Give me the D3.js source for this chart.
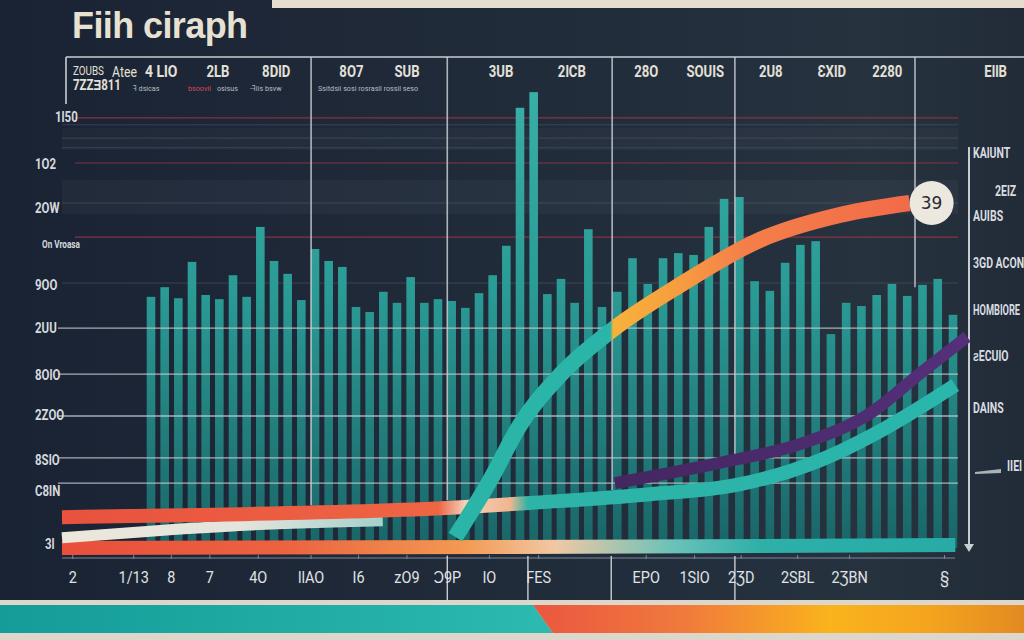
<!DOCTYPE html>
<html><head><meta charset="utf-8">
<script src="https://cdn.jsdelivr.net/npm/d3@7"></script>
<style>html,body{margin:0;padding:0;background:#1d2636;}svg{display:block}</style>
</head><body><svg id="c" width="1024" height="640"></svg>
<script>
// ---------- DATA ----------
const chartTitle = "Fiih ciraph";
const barValues = [54.6,56.7,54.3,62.2,55.0,54.1,59.3,54.6,69.8,62.4,59.6,53.9,65.0,62.4,61.1,52.4,51.3,55.7,53.3,58.9,53.3,54.1,53.7,52.2,55.4,59.3,65.7,95.7,99.1,55.2,58.5,53.3,69.3,52.4,55.7,63.0,57.4,63.0,64.1,63.7,69.8,75.9,76.3,58.0,55.9,62.0,65.9,66.7,46.5,53.3,52.6,55.0,57.4,54.8,57.2,58.5,50.7];
const barIndex = d3.range(barValues.length);

// line series: x in period units (0-100), y in value units
const lineAx = [0, 15.4, 45.0, 52.2, 65.6, 75.3, 84.6, 92.1, 99.7];
const lineAy = [6.7, 7.2, 8.9, 9.8, 11.7, 13.7, 19.1, 26.3, 35.4];
const lineBx = [0, 8.7, 21.0, 35.8];
const lineBy = [2.2, 3.5, 5.0, 5.9];
const lineCx = [0, 48.9, 99.7];
const lineCy = [0.0, 0.2, 0.65];
const curveDx = [43.9, 47.8, 51.1, 55.6, 61.4, 69.0, 77.9, 86.8, 94.6];
const curveDy = [2.4, 14.8, 26.7, 37.6, 47.4, 57.2, 67.0, 72.4, 75.0];
const lineEx = [61.7, 73.4, 82.7, 90.2, 95.8, 101.0];
const lineEy = [14.1, 18.5, 22.8, 29.3, 38.0, 45.9];
const endLabel = "39";

// grid values
const redGrid = [93.5, 83.7, 67.6];
const faintGrid = [92.0, 89.1, 87.0, 75.0, 57.6];
const whiteGrid = [47.8, 37.8, 28.7, 19.6, 14.1];
const vGridX = [27.8, 43.0, 61.4, 75.1, 95.2];
const vGridEnd = [9.3, 10.4, 12.6, 20.2, 56.7];

// tick labels
const leftLabels = ["1l50","1O2","2OW","On Vroasa","9OO","2UU","8OlO","2ZOO","8SlO","C8lN","3l"];
const leftLabelVals = [93.7, 83.5, 73.9, 66.3, 57.2, 47.8, 37.6, 28.9, 19.1, 12.4, 0.9];
const bottomLabels = ["2","1/13","8","7","4O","llAO","I6","zO9","Ɔ9P","lO","FES","EPO","1SlO","2ƷD","2SBL","2ƷBN","§"];
const bottomLabelX = [1.2, 8.0, 12.2, 16.5, 21.9, 27.8, 33.1, 38.5, 43.0, 47.7, 53.2, 65.2, 70.6, 75.8, 82.1, 87.9, 98.5];
const topLabels = ["2LB","8DlD","8O7","SUB","3UB","2lCB","28O","SOUIS","2U8","ƐXlD","2280","EllB"];
const topLabelX = [17.4, 23.9, 32.3, 38.5, 49.0, 56.9, 65.2, 71.8, 79.1, 85.9, 92.1, 104.2];
const rightLabels = ["KAlUNT","2ElZ","AUIBS","3GD ACON","HOMBIORE","ƨECUlO","DAINS","IIEI"];
const rightLabelVals = [85.9, 77.6, 72.2, 62.0, 51.7, 41.7, 30.4, 17.8];

// ---------- SCALES ----------
const svg = d3.select("#c");
const defs = svg.append("defs");
const y = d3.scaleLinear().domain([0, 100]).range([548, 88]);
const xP = d3.scaleLinear().domain([0, 100]).range([62, 958]);
const xBar = d3.scaleLinear().domain([0, 33, 56]).range([151, 602, 953]);

function lg(id, stops, x1, x2, y1, y2) {
  const g = defs.append("linearGradient").attr("id", id).attr("gradientUnits", "userSpaceOnUse")
    .attr("x1", x1).attr("x2", x2).attr("y1", y1).attr("y2", y2);
  stops.forEach(s => g.append("stop").attr("offset", s[0]).attr("stop-color", s[1]));
}
lg("bg", [[0,"#1a2333"],[0.6,"#222d3c"],[0.85,"#27323f"],[1,"#222c39"]], 0, 1024, 0, 0);
lg("bar", [[0,"#38b0a7"],[0.45,"#2a9a94"],[1,"#1a6568"]], 0, 0, 90, 548);
lg("gA", [[0,"#e8523e"],[0.42,"#ee6544"],[0.45,"#f3d3bb"],[0.5,"#f1b58e"],[0.52,"#2eb3a8"],[1,"#2ab6ab"]], 62, 958, 0, 0);
lg("gB", [[0,"#ece7dd"],[0.2,"#e3e4dc"],[0.36,"#a5d0cd"]], 62, 958, 0, 0);
lg("gC", [[0,"#e84f3b"],[0.25,"#ec6340"],[0.45,"#f39a52"],[0.55,"#f1c8a4"],[0.68,"#6cc2b9"],[0.78,"#2db0a8"],[1,"#28aba6"]], 62, 958, 0, 0);
lg("gD", [[0,"#2bb5a8"],[0.612,"#2bb5a8"],[0.615,"#f7b23a"],[0.69,"#f79c40"],[0.76,"#f47f4a"],[1,"#f26548"]], 62, 958, 0, 0);
lg("gE", [[0,"#43265f"],[1,"#54307a"]], 600, 970, 0, 0);
lg("gTeal", [[0,"#149c98"],[1,"#2bb9b0"]], 0, 540, 0, 0);
lg("gOr", [[0,"#eb5840"],[0.3,"#f07a3c"],[0.6,"#fab31c"],[0.8,"#f4a51e"],[1,"#e28a22"]], 540, 1024, 0, 0);

const cond = "Roboto,'Liberation Sans',sans-serif";
function ctext(g, x, y0, str, size, opts) {
  opts = opts || {};
  return g.append("text").attr("transform", `translate(${x},${y0}) scale(${opts.sx || 0.82},1)`)
    .attr("text-anchor", opts.anchor || "start").text(str)
    .attr("font-family", cond).attr("font-weight", opts.weight || "bold")
    .attr("font-size", size).attr("fill", opts.fill || "#e3e0d8");
}

// ---------- BACKGROUND ----------
svg.append("rect").attr("width", 1024).attr("height", 640).attr("fill", "url(#bg)");
svg.append("rect").attr("x", 272).attr("y", 0).attr("width", 752).attr("height", 8).attr("fill", "#e5dece");
svg.append("rect").attr("x", 62).attr("y", 180).attr("width", 896).attr("height", 34).attr("fill", "#ffffff").attr("opacity", 0.035);
svg.append("rect").attr("x", 62).attr("y", 128).attr("width", 896).attr("height", 22).attr("fill", "#ffffff").attr("opacity", 0.025);

// title
svg.append("text").attr("x", 72).attr("y", 38).text(chartTitle)
  .attr("font-family", "'Liberation Sans', Arial, sans-serif").attr("font-weight", "bold")
  .attr("font-size", 36).attr("letter-spacing", -0.6).attr("fill", "#e7e1d3");

// grids behind bars
svg.append("g").selectAll("line").data(faintGrid).join("line")
  .attr("x1", 62).attr("x2", 958).attr("y1", d => y(d)).attr("y2", d => y(d))
  .attr("stroke", "#5a6676").attr("stroke-width", 1).attr("opacity", 0.45);
svg.append("g").selectAll("line").data(redGrid).join("line")
  .attr("x1", 75).attr("x2", 958).attr("y1", d => y(d)).attr("y2", d => y(d))
  .attr("stroke", "#9a3446").attr("stroke-width", 1.2).attr("opacity", 0.85);

// bars
svg.append("g").selectAll("rect").data(barIndex).join("rect")
  .attr("x", i => xBar(i) - 4.3).attr("width", 8.6)
  .attr("y", i => y(barValues[i])).attr("height", i => y(0) - y(barValues[i]))
  .attr("fill", "url(#bar)");

// white grid over bars
svg.append("g").selectAll("line").data(whiteGrid).join("line")
  .attr("x1", 58).attr("x2", 958).attr("y1", d => y(d)).attr("y2", d => y(d))
  .attr("stroke", "#c9cfd4").attr("stroke-width", 1.4).attr("opacity", 0.8);

// vertical lines
svg.append("g").selectAll("line").data(vGridX).join("line")
  .attr("x1", d => xP(d)).attr("x2", d => xP(d)).attr("y1", 57).attr("y2", (d, i) => y(vGridEnd[i]))
  .attr("stroke", "#c8cdd2").attr("stroke-width", 1.6).attr("opacity", 0.85);

// header box
const hdr = svg.append("g").attr("stroke", "#c8cdd2").attr("stroke-width", 1.6);
hdr.append("line").attr("x1", 66).attr("x2", 1024).attr("y1", 57).attr("y2", 57);
hdr.append("line").attr("x1", 66).attr("x2", 66).attr("y1", 57).attr("y2", 104);

const gTop = svg.append("g");
topLabels.forEach((t, i) => ctext(gTop, xP(topLabelX[i]), 77, t, 16, {anchor: "middle"}));
ctext(gTop, 73, 75, "ZOUBS", 12, {weight: "normal"});
ctext(gTop, 112, 77, "Atee", 15, {weight: "normal"});
ctext(gTop, 145, 77, "4 LlO", 17);
ctext(gTop, 73, 90, "7ZZƎ811", 14);
const small = [["ꟻ dsicas", 133, "#b9bec4"], ["bsoovil", 188, "#d4485a"], ["osisus", 217, "#b9bec4"],
               ["-ꟻIis bsvw", 250, "#b9bec4"], ["Ssitdsii sosi rosrasll rossil seso", 318, "#b9bec4"]];
small.forEach(s => ctext(gTop, s[1], 91, s[0], 8, {fill: s[2], weight: "normal", sx: 0.9}));

// left labels
const gLeft = svg.append("g");
leftLabels.forEach((t, i) => ctext(gLeft, i === 0 ? 55 : (i === 3 ? 42 : (i === 10 ? 45 : 35)),
  y(leftLabelVals[i]) + 5, t, i === 3 ? 10 : 14, {fill: "#d4d9de"}));

// right axis
svg.append("line").attr("x1", 969).attr("x2", 969).attr("y1", 147).attr("y2", 546)
  .attr("stroke", "#c8cdd2").attr("stroke-width", 2);
svg.append("path").attr("d", "M964,544 L974,544 L969,552 Z").attr("fill", "#c8cdd2");
const gRight = svg.append("g");
rightLabels.forEach((t, i) => ctext(gRight, i === 1 ? 995 : (i === 7 ? 1007 : 973),
  y(rightLabelVals[i]) + 5, t, 14, {fill: "#d8dce0", sx: i === 4 ? 0.66 : 0.75}));
svg.append("path").attr("d", "M975,472 L1001,469 L1001,473 L975,474 Z").attr("fill", "#aab2b8");

// bottom axis
svg.append("line").attr("x1", 62).attr("x2", 955).attr("y1", 558).attr("y2", 558)
  .attr("stroke", "#7a8898").attr("stroke-width", 1.2);
svg.append("g").selectAll("line").data(bottomLabelX).join("line")
  .attr("x1", d => xP(d)).attr("x2", d => xP(d)).attr("y1", 555).attr("y2", 559)
  .attr("stroke", "#7a8898");
svg.append("g").selectAll("line").data([43.0, 52.0, 61.3, 75.1]).join("line")
  .attr("x1", d => xP(d)).attr("x2", d => xP(d)).attr("y1", 556).attr("y2", 603)
  .attr("stroke", "#c8cdd2").attr("stroke-width", 1.4);
const gBot = svg.append("g");
bottomLabels.forEach((t, i) => ctext(gBot, xP(bottomLabelX[i]), 583, t, 17,
  {anchor: "middle", weight: "normal", fill: "#e0e3e6", sx: 0.85}));

// ---------- LINES ----------
function drawLine(xs, ys, stroke, width, curve) {
  const pts = xs.map((v, i) => [v, ys[i]]);
  svg.append("path").datum(pts)
    .attr("d", d3.line().x(d => xP(d[0])).y(d => y(d[1])).curve(curve || d3.curveMonotoneX))
    .attr("fill", "none").attr("stroke", stroke).attr("stroke-width", width).attr("stroke-linecap", "butt");
}
drawLine(lineCx, lineCy, "url(#gC)", 14);
drawLine(lineBx, lineBy, "url(#gB)", 11);
drawLine(lineAx, lineAy, "url(#gA)", 14);
drawLine(lineEx, lineEy, "url(#gE)", 12);
drawLine(curveDx, curveDy, "url(#gD)", 16, d3.curveMonotoneX);

// end label
const lx = xP(curveDx[curveDx.length - 1]) + 22, ly = y(curveDy[curveDy.length - 1]);
svg.append("circle").attr("cx", lx).attr("cy", ly).attr("r", 22).attr("fill", "#ece8df");
svg.append("text").attr("x", lx).attr("y", ly + 6).attr("text-anchor", "middle").text(endLabel)
  .attr("font-family", "'DejaVu Sans',sans-serif").attr("font-size", 17).attr("fill", "#2a2a30");

// ---------- BOTTOM BAND ----------
svg.append("rect").attr("x", 0).attr("y", 600).attr("width", 1024).attr("height", 40).attr("fill", "#ddd7cb");
svg.append("path").attr("d", "M0,605 L533,605 L553,633 L0,633 Z").attr("fill", "url(#gTeal)");
svg.append("path").attr("d", "M533,605 L1024,605 L1024,633 L553,633 Z").attr("fill", "url(#gOr)");
</script></body></html>
